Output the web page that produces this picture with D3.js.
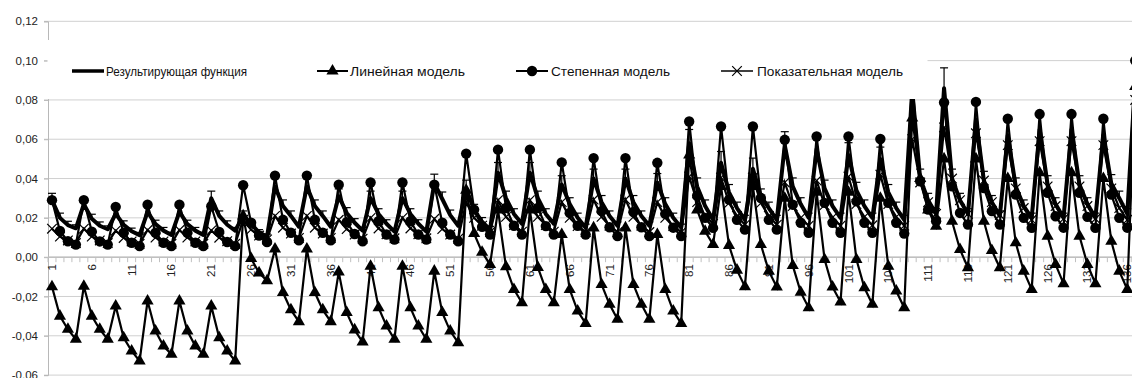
<!DOCTYPE html>
<html>
<head>
<meta charset="utf-8">
<script src="https://cdn.jsdelivr.net/npm/d3@7"></script>
<style>
  body { margin: 0; background: #fff; }
  svg { display: block; font-family: "Liberation Sans", Arial, sans-serif; }
</style>
</head>
<body>
<script>
// Categories (quarters 1..137), labels every 5th
const categories = d3.range(1, 138);
const xTickLabels = [1, 6, 11, 16, 21, 26, 31, 36, 41, 46, 51, 56, 61, 66, 71, 76, 81, 86, 91, 96,
  101, 106, 111, 116, 121, 126, 131, 136];
const yTicks = [-0.06, -0.04, -0.02, 0, 0.02, 0.04, 0.06, 0.08, 0.10, 0.12];

const seriesNames = ['Результирующая функция', 'Линейная модель', 'Степенная модель', 'Показательная модель'];

// Результирующая функция
const resultFn = [
  .029, .020, .0163, .0147,   .027, .0195, .016, .0142,   .022, .0165, .0132, .0112,
  .023, .0168, .0135, .0113,  .023, .0168, .0135, .0113,  .030, .021, .0165, .0135,
  .021, .017, .0125, .0105,   .036, .026, .021, .0155,    .036, .026, .021, .0155,
  .031, .0225, .0175, .0135,  .030, .022, .017, .013,     .030, .022, .017, .013,
  .0377, .0296, .0214, .016,  .035, .024, .018, .014,     .043, .030, .022, .017,
  .043, .030, .022, .017,     .037, .027, .020, .015,     .040, .028, .021, .016,
  .040, .028, .021, .016,     .038, .027, .020, .015,     .058, .036, .026, .019,
  .048, .033, .025, .019,     .045, .031, .025, .019,     .057, .036, .027, .020,
  .055, .035, .026, .020,     .052, .034, .026, .020,     .050, .033, .025, .019,
  .085, .040, .029, .022,     .086, .040, .029, .022,     .070, .039, .028, .021,
  .062, .036, .026, .020,     .065, .037, .027, .020,     .065, .037, .027, .020,
  .062, .0375, .030, .022,    .090
];

// Линейная модель
const linear = [
  -.015, -.030, -.0367, -.0418,   -.0148, -.030, -.0367, -.0418,  -.0249, -.041, -.0477, -.0528,
  -.0223, -.0376, -.0452, -.0494, -.0223, -.0376, -.0452, -.0494, -.0249, -.041, -.0477, -.0528,
  .021, -.0007, -.008, -.012,     .0041, -.018, -.0268, -.0328,   .0041, -.018, -.0268, -.0328,
  -.0076, -.0282, -.037, -.0432,  -.0046, -.0257, -.035, -.0418,  -.0046, -.0257, -.035, -.0418,
  -.0071, -.0282, -.0376, -.0435, .034, .012, .0025, -.0037,      .024, -.0049, -.0164, -.0232,
  .024, -.0052, -.0164, -.0232,   .0115, -.0164, -.0274, -.0337,  .0149, -.0139, -.024, -.0316,
  .0149, -.0139, -.024, -.0316,   .0115, -.0164, -.0274, -.0337,  .052, .024, .0132, .0064,
  .036, .006, -.0066, -.015,      .036, .0064, -.0071, -.0152,    .030, -.0042, -.0178, -.0257,
  .033, -.0012, -.0152, -.0228,   .033, -.0012, -.0156, -.024,    .030, -.0046, -.0172, -.0257,
  .0708, .040, .024, .0157,       .050, .0183, .0039, -.0054,     .050, .0183, .0034, -.0054,
  .040, .0073, -.0071, -.0164,    .043, .0107, -.0037, -.0135,    .043, .0107, -.0037, -.0135,
  .040, .0081, -.0071, -.0164,    .0868
];

// Степенная модель
const power = [
  .029, .0133, .0081, .0064,   .029, .013, .008, .0064,     .0256, .0124, .0073, .0056,
  .0267, .0124, .0073, .0056,  .0267, .0124, .0073, .0056,  .0259, .0128, .0077, .0056,
  .0366, .0175, .011, .0077,   .0415, .019, .0124, .0086,   .0415, .019, .0124, .0086,
  .0369, .0178, .0118, .0081,  .038, .0183, .0115, .009,    .038, .0183, .0115, .009,
  .0369, .0175, .0115, .0081,  .0527, .0242, .0154, .0115,  .0547, .025, .016, .0115,
  .0547, .025, .0158, .0115,   .0482, .0225, .016, .0115,   .0504, .0234, .0152, .0107,
  .0504, .023, .0152, .0107,   .048, .022, .015, .0107,     .069, .0313, .020, .0149,
  .0665, .0293, .019, .014,    .0665, .0301, .019, .014,    .0597, .0267, .0175, .0124,
  .0614, .0276, .0175, .0124,  .0614, .0284, .0175, .0124,  .0601, .0276, .0175, .012,
  .090, .0386, .0242, .0183,   .0787, .036, .0225, .0166,   .079, .0352, .0234, .0166,
  .0704, .0318, .020, .0149,   .0728, .0327, .0208, .015,   .0728, .0327, .0205, .0149,
  .0704, .0318, .020, .015,    .100
];

// Показательная модель
const exponential = [
  .0145, .0105, .0085, .0072,  .0145, .0105, .0085, .0072,  .0135, .0098, .008, .0068,
  .0138, .010, .008, .0068,    .0138, .010, .008, .0068,    .0136, .0099, .0081, .0068,
  .019, .014, .011, .009,      .021, .015, .012, .0098,     .021, .015, .012, .0098,
  .019, .0143, .0115, .0094,   .020, .0146, .0117, .0096,   .020, .0146, .0117, .0096,
  .0195, .0143, .0115, .0094,  .028, .020, .016, .0128,     .029, .0205, .0163, .013,
  .029, .0205, .0163, .013,    .028, .020, .0158, .0127,    .0293, .0205, .016, .0128,
  .0293, .0205, .016, .0128,   .028, .020, .0158, .0127,    .041, .028, .021, .017,
  .0405, .0275, .021, .0165,   .0405, .0275, .021, .0165,   .038, .026, .020, .016,
  .039, .0265, .0202, .016,    .041, .027, .0205, .0162,    .042, .027, .0205, .016,
  .060, .038, .028, .022,      .066, .040, .029, .022,      .063, .039, .028, .0215,
  .057, .035, .025, .019,      .059, .036, .026, .0195,     .059, .036, .026, .0195,
  .057, .035, .025, .019,      .080
];

// plus error bars on the resulting function, percent of value
const errPct = 0.12;

const W = 1132, H = 378;
const left = 48, step = 7.965;
const yTop = 21.3, yBottom = 375.1;

const svg = d3.select('body').append('svg')
  .attr('width', W).attr('height', H);

const x = d3.scaleBand()
  .domain(categories)
  .range([left, left + categories.length * step])
  .padding(0);

const y = d3.scaleLinear()
  .domain([-0.06, 0.12])
  .range([yBottom, yTop]);

const cx = d => x(d) + x.bandwidth() / 2;
const fmt = v => (v < 0 ? '-' : '') + Math.abs(v).toFixed(2).replace('.', ',');

// gridlines
svg.append('g').selectAll('line')
  .data(yTicks)
  .enter().append('line')
  .attr('x1', left - 4).attr('x2', W)
  .attr('y1', d => y(d)).attr('y2', d => y(d))
  .attr('stroke', '#d0d0d0').attr('stroke-width', 1);

// y axis
const yAxis = svg.append('g')
  .attr('transform', `translate(${left},0)`)
  .call(d3.axisLeft(y).tickValues(yTicks).tickFormat(fmt).tickSize(4).tickPadding(6));
yAxis.select('.domain').attr('stroke', '#b8b8b8');
yAxis.selectAll('.tick line').attr('stroke', '#b8b8b8');
yAxis.selectAll('text').attr('font-size', 11.5).attr('fill', '#222')
  .attr('font-family', '"Liberation Sans", Arial, sans-serif');

// x axis at zero, ticks between categories
const x0 = y(0);
svg.append('line')
  .attr('x1', left).attr('x2', W)
  .attr('y1', x0).attr('y2', x0)
  .attr('stroke', '#c0c0c0').attr('stroke-width', 1.5);
svg.append('g').selectAll('line')
  .data(categories)
  .enter().append('line')
  .attr('x1', d => x(d)).attr('x2', d => x(d))
  .attr('y1', x0).attr('y2', x0 + 5)
  .attr('stroke', '#c0c0c0');

svg.append('g').selectAll('text')
  .data(xTickLabels)
  .enter().append('text')
  .attr('transform', d => `translate(${cx(d)},${x0 + 7}) rotate(-90)`)
  .attr('dy', '0.35em')
  .attr('text-anchor', 'end')
  .attr('font-size', 11.5)
  .attr('fill', '#222')
  .text(d => d);

const line = arr => d3.line()
  .x((d, i) => cx(categories[i]))
  .y(d => y(d))(arr);

const plot = svg.append('g');

// Результирующая функция: thick line
plot.append('path')
  .attr('d', line(resultFn))
  .attr('fill', 'none').attr('stroke', '#000')
  .attr('stroke-width', 4).attr('stroke-linejoin', 'round');

// Линейная модель
plot.append('path')
  .attr('d', line(linear))
  .attr('fill', 'none').attr('stroke', '#000').attr('stroke-width', 2.2);
plot.append('g').selectAll('path')
  .data(linear)
  .enter().append('path')
  .attr('transform', (d, i) => `translate(${cx(categories[i])},${y(d)})`)
  .attr('d', d3.symbol(d3.symbolTriangle, 64))
  .attr('fill', '#000');

// Степенная модель
plot.append('path')
  .attr('d', line(power))
  .attr('fill', 'none').attr('stroke', '#000').attr('stroke-width', 2.2);
plot.append('g').selectAll('circle')
  .data(power)
  .enter().append('circle')
  .attr('cx', (d, i) => cx(categories[i]))
  .attr('cy', d => y(d))
  .attr('r', 5.2)
  .attr('fill', '#000');

// Показательная модель
plot.append('path')
  .attr('d', line(exponential))
  .attr('fill', 'none').attr('stroke', '#000').attr('stroke-width', 2.2);
plot.append('g').selectAll('path')
  .data(exponential)
  .enter().append('path')
  .attr('d', (d, i) => {
    const px = cx(categories[i]), py = y(d), s = 4.8;
    return `M${px - s},${py - s}L${px + s},${py + s}M${px - s},${py + s}L${px + s},${py - s}`;
  })
  .attr('stroke', '#000').attr('stroke-width', 1.2);

// error bars (plus)
const eb = plot.append('g').attr('stroke', '#000').attr('stroke-width', 1.2);
resultFn.forEach((v, i) => {
  const px = cx(categories[i]);
  const top = y(v * (1 + errPct));
  eb.append('line').attr('x1', px).attr('x2', px).attr('y1', y(v)).attr('y2', top);
  eb.append('line').attr('x1', px - 4).attr('x2', px + 4).attr('y1', top).attr('y2', top);
});

// legend (white box over the plot)
const lg = svg.append('g');
lg.append('rect')
  .attr('x', left - 0.5).attr('y', 40)
  .attr('width', 928 - left).attr('height', 59)
  .attr('fill', '#fff');

const ly = 71;
const legendItems = [
  { name: seriesNames[0], x1: 72, x2: 104, tx: 106, tw: 141, mark: 'none', sw: 3.5 },
  { name: seriesNames[1], x1: 317, x2: 348, tx: 350, tw: 115, mark: 'tri', sw: 2 },
  { name: seriesNames[2], x1: 516, x2: 548, tx: 551, tw: 119, mark: 'circle', sw: 2 },
  { name: seriesNames[3], x1: 721, x2: 753, tx: 757, tw: 146, mark: 'x', sw: 1.5 }
];
legendItems.forEach(it => {
  lg.append('line')
    .attr('x1', it.x1).attr('x2', it.x2).attr('y1', ly).attr('y2', ly)
    .attr('stroke', '#000').attr('stroke-width', it.sw);
  const mx = (it.x1 + it.x2) / 2;
  if (it.mark === 'tri') {
    lg.append('path').attr('transform', `translate(${mx},${ly})`)
      .attr('d', d3.symbol(d3.symbolTriangle, 64)).attr('fill', '#000');
  } else if (it.mark === 'circle') {
    lg.append('circle').attr('cx', mx).attr('cy', ly).attr('r', 5.2).attr('fill', '#000');
  } else if (it.mark === 'x') {
    const s = 4.8;
    lg.append('path')
      .attr('d', `M${mx - s},${ly - s}L${mx + s},${ly + s}M${mx - s},${ly + s}L${mx + s},${ly - s}`)
      .attr('stroke', '#000').attr('stroke-width', 1.2);
  }
  lg.append('text')
    .attr('x', it.tx).attr('y', ly + 4.5)
    .attr('font-size', 12.5)
    .attr('fill', '#111')
    .attr('textLength', it.tw)
    .attr('lengthAdjust', 'spacingAndGlyphs')
    .text(it.name);
});
</script>
</body>
</html>
